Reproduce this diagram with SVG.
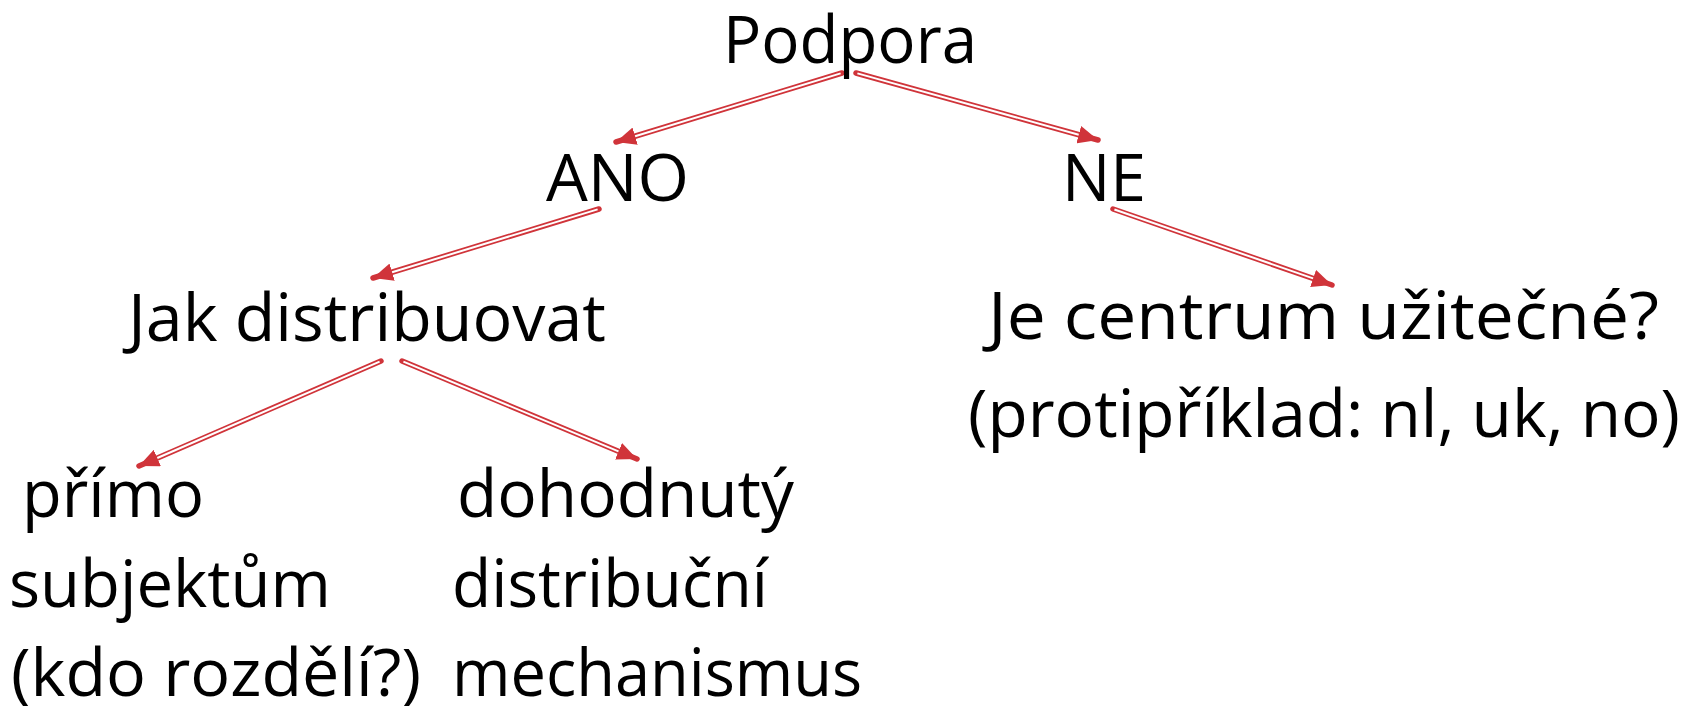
<svg xmlns="http://www.w3.org/2000/svg" width="1686" height="706" viewBox="0 0 1686 706">
<style>
text{font-family:"Open Sans","Liberation Sans",sans-serif;font-size:66px;fill:#000}
.o{stroke:#d0343a;stroke-width:5.5;stroke-linecap:round;fill:none}
.i{stroke:#fff;stroke-width:2;stroke-linecap:butt;fill:none}
</style>
<defs>
<marker id="ah" markerUnits="userSpaceOnUse" viewBox="0 0 20 18" markerWidth="20" markerHeight="18" refX="20" refY="9" orient="auto">
<path d="M0,0 L20,9 L0,18 z" fill="#d0343a"/>
</marker>
</defs>
<rect width="1686" height="706" fill="#fff"/>
<g id="connectors">
<line class="o" x1="842" y1="73" x2="616" y2="142" marker-end="url(#ah)"/>
<line class="i" x1="840.6" y1="73.4" x2="635.1" y2="136.2"/>
<line class="o" x1="856" y1="73" x2="1098" y2="140" marker-end="url(#ah)"/>
<line class="i" x1="857.4" y1="73.4" x2="1078.7" y2="134.7"/>
<line class="o" x1="599" y1="209" x2="373" y2="278" marker-end="url(#ah)"/>
<line class="i" x1="597.6" y1="209.4" x2="392.1" y2="272.2"/>
<line class="o" x1="1113" y1="209" x2="1332" y2="285" marker-end="url(#ah)"/>
<line class="i" x1="1114.4" y1="209.5" x2="1313.1" y2="278.4"/>
<line class="o" x1="381" y1="361" x2="139" y2="466" marker-end="url(#ah)"/>
<line class="i" x1="379.6" y1="361.6" x2="157.3" y2="458"/>
<line class="o" x1="402" y1="361" x2="637" y2="459" marker-end="url(#ah)"/>
<line class="i" x1="403.4" y1="361.6" x2="618.5" y2="451.3"/>
</g>
<g id="podpora"><text x="723" y="63" textLength="254" lengthAdjust="spacingAndGlyphs">Podpora</text></g>
<g id="ano"><text x="546" y="201" textLength="143" lengthAdjust="spacingAndGlyphs">ANO</text></g>
<g id="ne"><text x="1062" y="201" textLength="84" lengthAdjust="spacingAndGlyphs">NE</text></g>
<g id="jak"><text x="128" y="341" textLength="478" lengthAdjust="spacingAndGlyphs">Jak distribuovat</text></g>
<g id="centrum">
<text x="988" y="339" textLength="671" lengthAdjust="spacingAndGlyphs">Je centrum užitečné?</text>
<text x="968" y="437" textLength="712" lengthAdjust="spacingAndGlyphs">(protipříklad: nl, uk, no)</text>
</g>
<g id="primo">
<text x="22" y="517" textLength="182" lengthAdjust="spacingAndGlyphs">přímo</text>
<text x="9" y="607" textLength="322" lengthAdjust="spacingAndGlyphs">subjektům</text>
<text x="11" y="696" textLength="410" lengthAdjust="spacingAndGlyphs">(kdo rozdělí?)</text>
</g>
<g id="dohodnuty">
<text x="457" y="517" textLength="337" lengthAdjust="spacingAndGlyphs">dohodnutý</text>
<text x="452" y="607" textLength="316" lengthAdjust="spacingAndGlyphs">distribuční</text>
<text x="452" y="696" textLength="410" lengthAdjust="spacingAndGlyphs">mechanismus</text>
</g>
</svg>
